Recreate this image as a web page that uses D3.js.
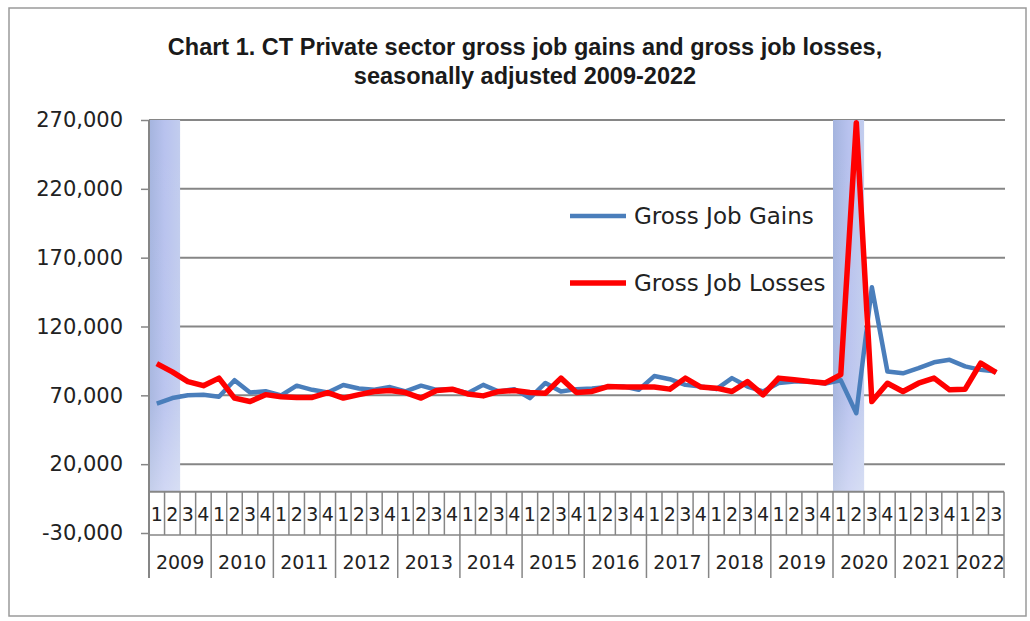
<!DOCTYPE html>
<html>
<head>
<meta charset="utf-8">
<script src="https://cdn.jsdelivr.net/npm/d3@7"></script>
<style>
  body { margin: 0; background: #fff; }
  svg { display: block; }
</style>
</head>
<body>
<svg id="chart" width="1030" height="621"></svg>
<script>
// chart values
var years = ["2009", "2010", "2011", "2012", "2013", "2014", "2015", "2016", "2017", "2018", "2019", "2020", "2021", "2022"];
var quarterLabels = ["1", "2", "3", "4"];
var lastYearQuarters = 3; // 2022 only runs to Q3

var gains = [
  64000, 68000, 70000, 70500,
  69000, 81000, 72000, 73000,
  70000, 77000, 74000, 72000,
  77500, 75000, 74000, 76000,
  72800, 77000, 74000, 74500,
  71600, 77600, 72800, 74500,
  68000, 79000, 72800, 74500,
  75000, 76000, 76500, 74000,
  84000, 81700, 77600, 76400,
  74500, 82500, 76400, 72800,
  79000, 80000, 80000, 78500,
  81000, 57000, 148500, 87300,
  86000, 89700, 94000, 95800,
  91000, 88500, 87300
];
var losses = [
  93000, 87000, 80000, 77000,
  82500, 68000, 65500, 70500,
  69000, 68500, 68500, 72000,
  68000, 70500, 72800, 73500,
  72000, 68000, 73500, 74500,
  71000, 69600, 72800, 73500,
  72000, 71500, 82500, 72000,
  72800, 76400, 76000, 76000,
  76000, 74500, 82500, 76000,
  75200, 72800, 80000, 70400,
  82500, 81300, 80000, 79000,
  85000, 268000, 65500, 78800,
  72800, 78800, 82500, 74000,
  74500, 93400, 86500
];
var yTicks = [-30000, 20000, 70000, 120000, 170000, 220000, 270000];
// shaded recession quarters
var recessions = [["2009-1", "2009-2"], ["2020-1", "2020-2"]];
var seriesNames = ["Gross Job Gains", "Gross Job Losses"];
var seriesColors = ["#4a7ebb", "#ff0000"];
var titleLines = ["Chart 1. CT Private sector gross job gains and gross job losses,", "seasonally adjusted 2009-2022"];

var categories = [];
years.forEach(function (yr, i) {
  var n = i === years.length - 1 ? lastYearQuarters : quarterLabels.length;
  for (var j = 0; j < n; j++) {
    categories.push({ key: yr + "-" + quarterLabels[j], year: yr, q: quarterLabels[j] });
  }
});

var svg = d3.select("#chart");
var plotLeft = 149, plotRight = 1004, plotTop = 120, plotBottom = 533;
var axisFont = "DejaVu Sans";

var x = d3.scaleBand()
  .domain(categories.map(function (d) { return d.key; }))
  .range([plotLeft, plotRight]);
var y = d3.scaleLinear().domain([-30000, 270000]).range([plotBottom, plotTop]);
var bw = x.bandwidth();
var zeroY = y(0);
var commaFmt = d3.format(",");

// outer frame
svg.append("rect")
  .attr("x", 9).attr("y", 8).attr("width", 1017).attr("height", 608)
  .attr("fill", "#fff").attr("stroke", "#9a9a9a").attr("stroke-width", 1.5);

// gradient for recession bands
var defs = svg.append("defs");
var grad = defs.append("linearGradient").attr("id", "bandGrad")
  .attr("x1", "0").attr("x2", "1").attr("y1", "0").attr("y2", "0");
grad.append("stop").attr("offset", "0%").attr("stop-color", "#a4b4de");
grad.append("stop").attr("offset", "50%").attr("stop-color", "#b8c2ee");
grad.append("stop").attr("offset", "100%").attr("stop-color", "#c2cdee");
var fade = defs.append("linearGradient").attr("id", "bandFade")
  .attr("x1", "0").attr("x2", "0").attr("y1", "0").attr("y2", "1");
fade.append("stop").attr("offset", "0%").attr("stop-color", "#fff").attr("stop-opacity", 0);
fade.append("stop").attr("offset", "75%").attr("stop-color", "#fff").attr("stop-opacity", 0.05);
fade.append("stop").attr("offset", "100%").attr("stop-color", "#fff").attr("stop-opacity", 0.35);

// title
svg.append("g").selectAll("text")
  .data(titleLines)
  .join("text")
  .attr("x", 525)
  .attr("y", function (d, i) { return 55 + i * 29; })
  .attr("text-anchor", "middle")
  .attr("font-family", "Liberation Sans, Arial, sans-serif")
  .attr("font-weight", "bold")
  .attr("font-size", 23.5)
  .attr("fill", "#1a1a1a")
  .text(function (d) { return d; });

// gridlines
svg.append("g")
  .selectAll("line")
  .data(yTicks.filter(function (d) { return d > 0; }))
  .join("line")
  .attr("x1", plotLeft).attr("x2", plotRight + 1)
  .attr("y1", function (d) { return y(d); })
  .attr("y2", function (d) { return y(d); })
  .attr("stroke", "#868686")
  .attr("stroke-width", 2);

// recession bands
var bands = svg.append("g").selectAll("g")
  .data(recessions)
  .join("g");
bands.append("rect")
  .attr("x", function (d) { return x(d[0]); })
  .attr("width", function (d) { return x(d[1]) + bw - x(d[0]); })
  .attr("y", plotTop).attr("height", zeroY - plotTop)
  .attr("fill", "url(#bandGrad)");
bands.append("rect")
  .attr("x", function (d) { return x(d[0]); })
  .attr("width", function (d) { return x(d[1]) + bw - x(d[0]); })
  .attr("y", plotTop).attr("height", zeroY - plotTop)
  .attr("fill", "url(#bandFade)");

// y axis
var yAxis = svg.append("g")
  .attr("transform", "translate(" + plotLeft + ",0)")
  .call(d3.axisLeft(y).tickValues(yTicks)
    .tickFormat(function (d) { return commaFmt(d).replace("\u2212", "-"); })
    .tickSize(8).tickPadding(18));
yAxis.select(".domain").attr("stroke", "#868686").attr("stroke-width", 2)
  .attr("d", "M0," + plotTop + "V578");
yAxis.selectAll(".tick line").attr("stroke", "#868686").attr("stroke-width", 1.5);
yAxis.selectAll(".tick text")
  .attr("font-family", axisFont)
  .attr("font-size", 21)
  .attr("fill", "#222");

// category axis: quarter row and year row
var catAxis = svg.append("g").attr("stroke", "#868686").attr("stroke-width", 1.5);
catAxis.append("line").attr("x1", plotLeft).attr("x2", plotRight).attr("y1", zeroY).attr("y2", zeroY).attr("stroke-width", 2);
catAxis.append("line").attr("x1", plotLeft).attr("x2", plotRight).attr("y1", plotBottom + 2).attr("y2", plotBottom + 2);
catAxis.selectAll(".qsep")
  .data(categories)
  .join("line")
  .attr("class", "qsep")
  .attr("x1", function (d) { return x(d.key) + bw; })
  .attr("x2", function (d) { return x(d.key) + bw; })
  .attr("y1", zeroY)
  .attr("y2", function (d, i) {
    return (d.q === "4" || i === categories.length - 1) ? 578 : plotBottom + 2;
  });

svg.append("g").selectAll("text")
  .data(categories)
  .join("text")
  .attr("x", function (d) { return x(d.key) + bw / 2; })
  .attr("y", 521)
  .attr("text-anchor", "middle")
  .attr("font-family", axisFont)
  .attr("font-size", 19)
  .attr("fill", "#222")
  .text(function (d) { return d.q; });

svg.append("g").selectAll("text")
  .data(years)
  .join("text")
  .attr("x", function (d) {
    var ks = categories.filter(function (c) { return c.year === d; });
    return (x(ks[0].key) + x(ks[ks.length - 1].key) + bw) / 2;
  })
  .attr("y", 569)
  .attr("text-anchor", "middle")
  .attr("font-family", axisFont)
  .attr("font-size", 19)
  .attr("fill", "#222")
  .text(function (d) { return d; });

// series lines
var line = d3.line()
  .x(function (d, i) { return x(categories[i].key) + bw / 2; })
  .y(function (d) { return y(d); });

svg.append("path")
  .datum(gains)
  .attr("d", line)
  .attr("fill", "none")
  .attr("stroke", seriesColors[0])
  .attr("stroke-width", 4.5)
  .attr("stroke-linejoin", "round");
svg.append("path")
  .datum(losses)
  .attr("d", line)
  .attr("fill", "none")
  .attr("stroke", seriesColors[1])
  .attr("stroke-width", 5.5)
  .attr("stroke-linejoin", "round");

// legend
var legend = svg.append("g").selectAll("g")
  .data(seriesNames)
  .join("g")
  .attr("transform", function (d, i) { return "translate(570," + (216 + i * 67) + ")"; });
legend.append("line")
  .attr("x1", 0).attr("x2", 56)
  .attr("stroke", function (d, i) { return seriesColors[i]; })
  .attr("stroke-width", function (d, i) { return i ? 5.5 : 4.5; });
legend.append("text")
  .attr("x", 64)
  .attr("dy", "0.35em")
  .attr("font-family", axisFont)
  .attr("font-size", 23)
  .attr("fill", "#222")
  .text(function (d) { return d; });
</script>
</body>
</html>
